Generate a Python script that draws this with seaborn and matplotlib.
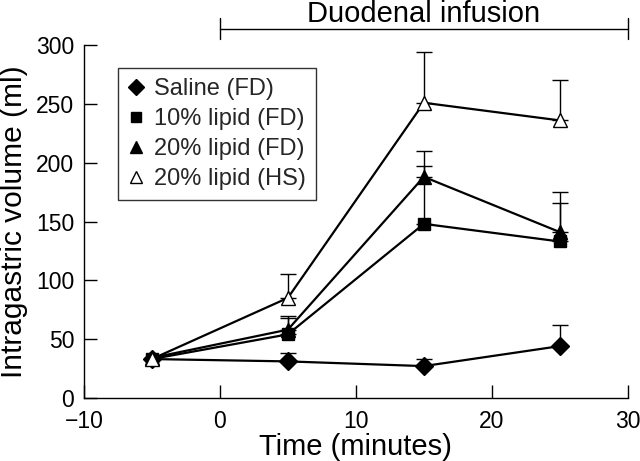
import matplotlib
matplotlib.use("Agg")
import matplotlib.pyplot as plt
from matplotlib.lines import Line2D
import seaborn as sns
import pandas as pd
import numpy as np

time = [-5, 5, 15, 25]
groups = ["Saline (FD)", "10% lipid (FD)", "20% lipid (FD)", "20% lipid (HS)"]
saline = [33, 31, 27, 44]
saline_err = [0, 7, 6, 18]
lipid10 = [33, 54, 148, 133]
lipid10_err = [0, 14, 49, 33]
lipid20 = [34, 58, 188, 141]
lipid20_err = [0, 12, 22, 34]
lipid20hs = [33, 85, 251, 236]
lipid20hs_err = [0, 20, 43, 34]

values = [saline, lipid10, lipid20, lipid20hs]
errors = [saline_err, lipid10_err, lipid20_err, lipid20hs_err]

rows = []
for g, v in zip(groups, values):
    for t, y in zip(time, v):
        rows.append({"Time": t, "Volume": y, "Group": g})
df = pd.DataFrame(rows)

sns.set_theme(style="ticks")
plt.rcParams['font.family'] = ['Liberation Sans', 'DejaVu Sans']

fig = plt.figure(figsize=(6.4, 4.61), dpi=100)
ax = fig.add_axes([0.131, 0.137, 0.85, 0.765])

markers = {"Saline (FD)": "D", "10% lipid (FD)": "s", "20% lipid (FD)": "^", "20% lipid (HS)": "^"}
msizes = {"Saline (FD)": 9, "10% lipid (FD)": 9, "20% lipid (FD)": 10, "20% lipid (HS)": 10}
faces = {"Saline (FD)": "black", "10% lipid (FD)": "black", "20% lipid (FD)": "black", "20% lipid (HS)": "white"}

for g, v, e in zip(groups, values, errors):
    ax.errorbar(time, v, yerr=[np.zeros(len(e)), e], fmt="none", ecolor="black",
                elinewidth=1, capsize=5.5, capthick=1, zorder=2)
    sub = df[df["Group"] == g]
    sns.lineplot(data=sub, x="Time", y="Volume", ax=ax, color="black", linewidth=1.6,
                 marker=markers[g], markersize=msizes[g], markerfacecolor=faces[g],
                 markeredgecolor="black", markeredgewidth=1, legend=False, zorder=3)

ax.set_xlim(-10, 30)
ax.set_ylim(0, 300)
ax.set_xticks([-10, 0, 10, 20, 30])
ax.set_yticks([0, 50, 100, 150, 200, 250, 300])
ax.set_xticklabels(["\u221210", "0", "10", "20", "30"])
ax.tick_params(direction="in", length=9.5, width=1, labelsize=16.5, color="black", labelcolor="black")
ax.tick_params(axis="x", pad=9)
ax.tick_params(axis="y", pad=7)
for s in ["top", "right"]:
    ax.spines[s].set_visible(False)
for s in ["left", "bottom"]:
    ax.spines[s].set_color("black")
    ax.spines[s].set_linewidth(1)

ax.set_xlabel("Time (minutes)", fontsize=21, color="black", labelpad=0)
ax.set_ylabel("Intragastric volume (ml)", fontsize=21.5, color="black", labelpad=6)

# Duodenal infusion bracket
ax.plot([0, 30], [314, 314], color="black", lw=1, clip_on=False)
ax.plot([0, 0], [305, 323], color="black", lw=1, clip_on=False)
ax.plot([30, 30], [305, 323], color="black", lw=1, clip_on=False)
ax.text(15, 320, "Duodenal infusion", ha="center", va="baseline", fontsize=21, color="black", clip_on=False)

handles = [Line2D([], [], linestyle="none", marker=markers[g], markersize=msizes[g] * 0.85,
                  markerfacecolor=faces[g], markeredgecolor="black", markeredgewidth=1) for g in groups]
leg = ax.legend(handles, groups, loc="upper left", bbox_to_anchor=(0.0625, 0.935), fontsize=17,
                frameon=True, fancybox=False, edgecolor="black", handlelength=0.7,
                handletextpad=0.4, labelspacing=0.34, borderpad=0.42, borderaxespad=0)
leg.get_frame().set_linewidth(1)

fig.savefig("out.png", dpi=100)
